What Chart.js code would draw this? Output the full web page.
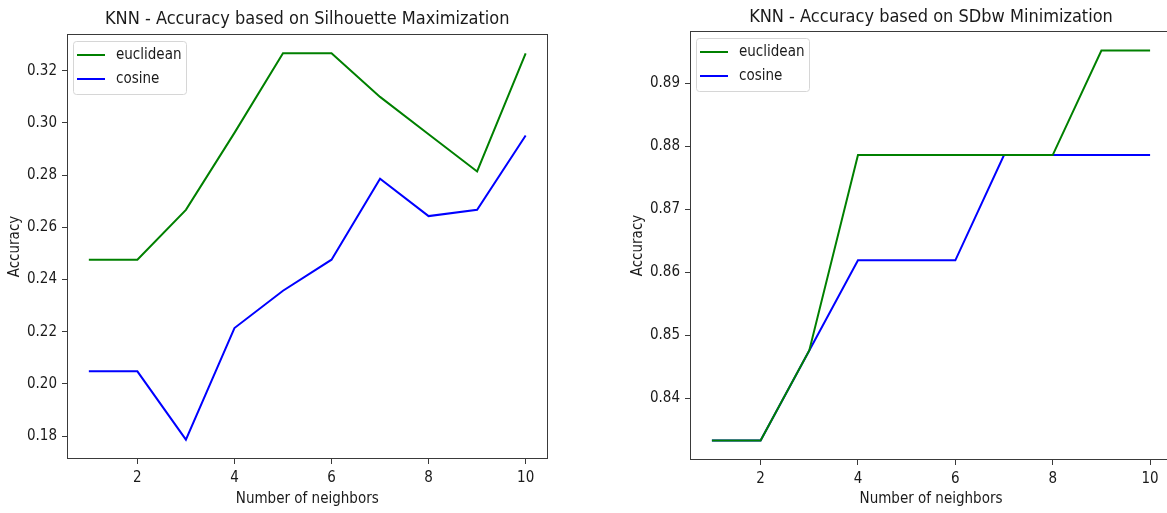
<!DOCTYPE html>
<html>
<head>
<meta charset="utf-8">
<script src="https://cdn.jsdelivr.net/npm/chart.js@4/dist/chart.umd.min.js"></script>
<style>
  html, body { margin: 0; padding: 0; background: #fff; overflow: hidden; width: 1167px; height: 513px; }
  .box { position: absolute; top: 0; height: 513px; }
  #leftBox { left: 0; width: 583px; }
  #rightBox { left: 583px; width: 600px; }
</style>
</head>
<body>
<div class="box" id="leftBox"><canvas id="c1"></canvas></div>
<div class="box" id="rightBox"><canvas id="c2"></canvas></div>
<script>
// ---- data ----
const neighbors = [1, 2, 3, 4, 5, 6, 7, 8, 9, 10];
const silEuclidean = [0.2476, 0.2476, 0.2667, 0.2962, 0.3267, 0.3267, 0.3100, 0.2957, 0.2814, 0.3267];
const silCosine    = [0.2048, 0.2048, 0.1786, 0.2214, 0.2357, 0.2476, 0.2786, 0.2643, 0.2667, 0.2952];
const sdbwEuclidean = [0.8333, 0.8333, 0.8476, 0.8786, 0.8786, 0.8786, 0.8786, 0.8786, 0.8952, 0.8952];
const sdbwCosine    = [0.8333, 0.8333, 0.8476, 0.8619, 0.8619, 0.8619, 0.8786, 0.8786, 0.8786, 0.8786];
const xTicks = [2, 4, 6, 8, 10];
const silYTicks = [0.18, 0.20, 0.22, 0.24, 0.26, 0.28, 0.30, 0.32];
const sdbwYTicks = [0.84, 0.85, 0.86, 0.87, 0.88, 0.89];
const seriesNames = ['euclidean', 'cosine'];
const titles = ['KNN - Accuracy based on Silhouette Maximization', 'KNN - Accuracy based on SDbw Minimization'];
const xTitle = 'Number of neighbors';
const yTitle = 'Accuracy';

const FONT = '"DejaVu Sans Condensed", "DejaVu Sans", sans-serif';
const TEXT = '#1a1a1a';
const AXIS = '#3a3a3a';

const framePlugin = {
  id: 'frame',
  afterDatasetsDraw(chart) {
    const a = chart.chartArea, ctx = chart.ctx;
    ctx.save();
    ctx.strokeStyle = AXIS;
    ctx.lineWidth = 1;
    ctx.strokeRect(Math.round(a.left) + 0.5, Math.round(a.top) + 0.5,
                   Math.round(a.right - a.left) - 1, Math.round(a.bottom - a.top) - 1);
    ctx.restore();
  }
};

const legendPlugin = {
  id: 'mplLegend',
  afterDraw(chart) {
    const a = chart.chartArea, ctx = chart.ctx;
    const x = a.left + 6, y = a.top + 7, w = 113, h = 53;
    ctx.save();
    ctx.fillStyle = 'rgba(255,255,255,0.8)';
    ctx.strokeStyle = '#d6d6d6';
    ctx.lineWidth = 1;
    ctx.beginPath();
    ctx.roundRect(x + 0.5, y + 0.5, w, h, 3);
    ctx.fill();
    ctx.stroke();
    ctx.font = '15px ' + FONT;
    ctx.textBaseline = 'middle';
    chart.data.datasets.forEach((ds, i) => {
      const ry = y + 14 + i * 24;
      ctx.strokeStyle = ds.borderColor;
      ctx.lineWidth = 2;
      ctx.beginPath();
      ctx.moveTo(x + 4, ry);
      ctx.lineTo(x + 32, ry);
      ctx.stroke();
      ctx.fillStyle = TEXT;
      ctx.fillText(ds.label, x + 43, ry);
    });
    ctx.restore();
  }
};

function pts(arr) { return neighbors.map((n, i) => ({ x: n, y: arr[i] })); }

function makeChart(id, title, eu, co, yTicks, pad, xHeight, titlePad) {
  const all = eu.concat(co);
  const lo = Math.min(...all), hi = Math.max(...all);
  const m = (hi - lo) * 0.05;
  return new Chart(document.getElementById(id), {
    type: 'line',
    data: {
      datasets: [
        { label: seriesNames[0], data: pts(eu), borderColor: '#008000', backgroundColor: '#008000', borderWidth: 2, pointRadius: 0, tension: 0, fill: false },
        { label: seriesNames[1], data: pts(co), borderColor: '#0000ff', backgroundColor: '#0000ff', borderWidth: 2, pointRadius: 0, tension: 0, fill: false }
      ]
    },
    options: {
      responsive: true,
      maintainAspectRatio: false,
      animation: false,
      devicePixelRatio: 1,
      layout: { padding: pad },
      plugins: {
        legend: { display: false },
        tooltip: { enabled: false },
        title: {
          display: true, text: title, fullSize: false, color: TEXT,
          font: { family: FONT, size: 18, weight: 'normal' },
          padding: titlePad
        }
      },
      scales: {
        x: {
          type: 'linear', min: 0.55, max: 10.45,
          afterBuildTicks: s => { s.ticks = xTicks.map(v => ({ value: v })); },
          afterFit: s => { s.height = xHeight; },
          ticks: { color: TEXT, font: { family: FONT, size: 15 }, padding: 5, maxRotation: 0, callback: v => String(v) },
          grid: { display: true, drawOnChartArea: false, drawTicks: true, tickLength: 5, tickColor: AXIS, color: AXIS },
          border: { display: false },
          title: { display: true, text: xTitle, color: TEXT, font: { family: FONT, size: 15 }, padding: { top: 0, bottom: 5 } }
        },
        y: {
          type: 'linear', min: lo - m, max: hi + m,
          afterBuildTicks: s => { s.ticks = yTicks.map(v => ({ value: v })); },
          afterFit: s => { s.width = 67; },
          ticks: { color: TEXT, font: { family: FONT, size: 15 }, padding: 5, callback: v => v.toFixed(2) },
          grid: { display: true, drawOnChartArea: false, drawTicks: true, tickLength: 5, tickColor: AXIS, color: AXIS },
          border: { display: false },
          title: { display: true, text: yTitle, color: TEXT, font: { family: FONT, size: 15 }, padding: { top: 6, bottom: 0 } }
        }
      }
    },
    plugins: [framePlugin, legendPlugin]
  });
}

makeChart('c1', titles[0], silEuclidean, silCosine, silYTicks,
  { left: 0, right: 35.5, top: 0, bottom: 0 }, 54, { top: 8.5, bottom: 3.9 });
makeChart('c2', titles[1], sdbwEuclidean, sdbwCosine, sdbwYTicks,
  { left: 40, right: 11, top: 0, bottom: 0 }, 53, { top: 6.5, bottom: 2.9 });
</script>
</body>
</html>
